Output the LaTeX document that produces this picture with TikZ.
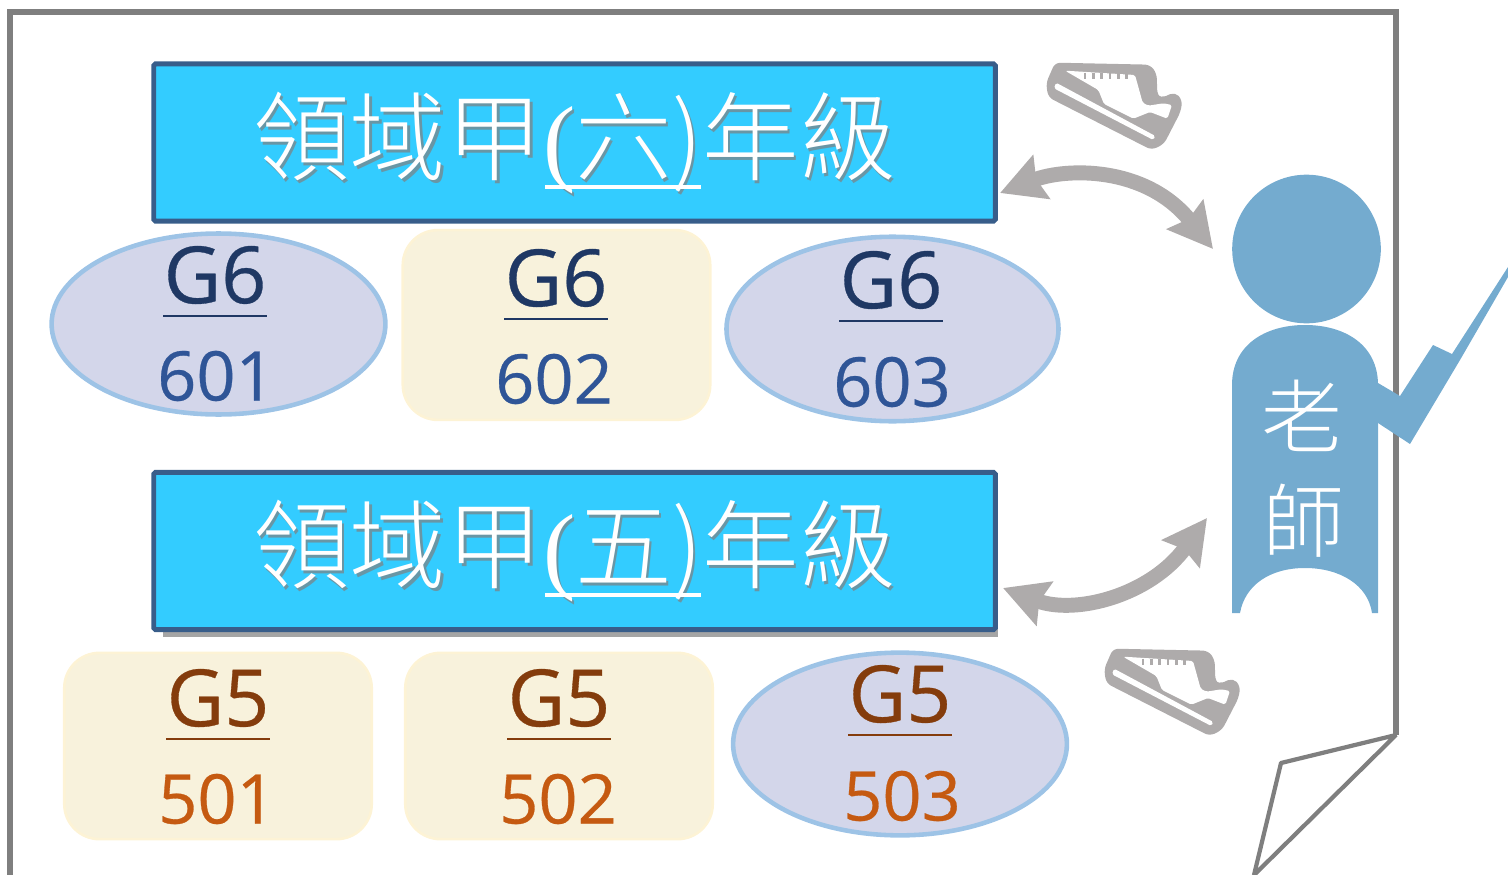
\documentclass[tikz,border=0pt]{standalone}
\usepackage{fontspec}
\usepackage{tikz}
\usetikzlibrary{arrows.meta,shapes.geometric}
\setmainfont{Liberation Serif}
\setsansfont[FakeBold=0.4]{Open Sans}
\newfontfamily\cjk{Noto Sans CJK TC Light}
\definecolor{framegray}{HTML}{7F7F7F}
\definecolor{bannerblue}{HTML}{33CCFF}
\definecolor{bannerline}{HTML}{385D8A}
\definecolor{ovalfill}{HTML}{D3D6EA}
\definecolor{ovalline}{HTML}{9DC3E6}
\definecolor{cardfill}{HTML}{F8F2DC}
\definecolor{cardline}{HTML}{FDF3D5}
\definecolor{arrowgray}{HTML}{AEABAB}
\definecolor{teacherblue}{HTML}{74ABCF}
\definecolor{sixdark}{HTML}{1F3864}
\definecolor{sixroom}{HTML}{2F5597}
\definecolor{fivedark}{HTML}{843C0C}
\definecolor{fiveroom}{HTML}{C55A11}
\tikzset{
    frameline/.style={draw=framegray, line width=3pt},
    foldline/.style={draw=framegray, line width=2.4pt, line join=bevel},
    banner/.style={rectangle, draw=bannerline, fill=bannerblue, line width=2.8pt, rounded corners=1pt, minimum width=479pt, minimum height=89.5pt},
    bannertext/.style={text=white, font=\fontsize{55pt}{55pt}\selectfont, inner sep=0pt},
    classoval/.style={ellipse, draw=ovalline, fill=ovalfill, line width=2.6pt, inner sep=0pt},
    classcard/.style={rectangle, draw=cardline, fill=cardfill, line width=1.5pt, rounded corners=20pt, inner sep=0pt},
    gradetext/.style={font=\sffamily\fontsize{45pt}{45pt}\selectfont, inner sep=0pt},
    roomtext/.style={font=\sffamily\fontsize{39pt}{39pt}\selectfont, inner sep=0pt},
    teachertext/.style={text=white, font=\cjk\fontsize{46pt}{46pt}\selectfont, inner sep=0pt},
    swapline/.style={draw=arrowgray, line width=8.5pt, {Stealth[length=25pt,width=26pt,inset=3pt]}-{Stealth[length=25pt,width=26pt,inset=3pt]}},
    shoe/.pic={
        \begin{scope}[scale=1/3]
            \fill[arrowgray, rounded corners=3pt] (138,130) -- (165,68) -- (450,74) -- (470,100) -- (472,165) -- (482,175) -- (525,156) -- (547,180) -- (542,215) -- (492,312) -- (455,330) -- (145,172) -- cycle;
            \fill[white, rounded corners=1pt] (195,92) -- (405,105) -- (428,188) -- (445,197) -- (490,190) -- (516,195) -- (502,236) -- (450,216) -- (400,236) -- (312,192) -- (295,150) -- cycle;
            \fill[white, rounded corners=1pt] (168,128) -- (466,288) -- (460,300) -- (162,145) -- cycle;
            \foreach \x in {255,280,305,330,355,380}
            \draw[arrowgray, line width=1.5pt] (\x,98) -- (\x,116);
        \end{scope}
    }
}
\newcommand{\gradename}[1]{{\cjk 領域甲}(#1){\cjk 年級}}

\begin{document}
\begin{tikzpicture}[x=0.02cm, y=-0.02cm]
    \useasboundingbox (0,0) rectangle (1508,875);

    % draw page with folded corner
    \draw[frameline] (10,875) -- (10,12) -- (1396,12) -- (1396,735);
    \draw[foldline] (1396,735) -- (1281,763) -- (1254,875) -- cycle;

    % draw grade banners
    \fill[framegray!70] (163,480) rectangle (998,637);
    \node[banner] (sixbanner) at (574.5,142.5) {};
    \node[banner] (fivebanner) at (574.5,551) {};

    \foreach \name/\y/\num in {six/143/六,five/551/五}
    {
        \node[bannertext, text=black!50, opacity=.7] (\name shadow) at (577,\y+3) {\gradename{\cjk\num}};
        \node[bannertext] (\name title) at (574.5,\y) {\gradename{\cjk\num}};
        \draw[white, line width=1.8pt] (545,\y+44) -- (701,\y+44);
    }

    % draw classes
    \node[classoval, minimum width=190pt, minimum height=103pt] (class601) at (218.5,324) {};
    \node[classcard, minimum width=175pt, minimum height=108pt] (class602) at (556.5,325) {};
    \node[classoval, minimum width=189pt, minimum height=105pt] (class603) at (892.5,329) {};
    \node[classcard, minimum width=175pt, minimum height=106pt] (class501) at (218,746) {};
    \node[classcard, minimum width=175pt, minimum height=106pt] (class502) at (559,746) {};
    \node[classoval, minimum width=190pt, minimum height=104pt] (class503) at (900,744) {};

    % draw class labels
    \foreach \room/\gname/\gx/\gy/\rx/\ry/\dark/\light in {
        601/G6/215/275/216/376/sixdark/sixroom,
        602/G6/556/278/554/379/sixdark/sixroom,
        603/G6/891/280/892/382/sixdark/sixroom,
        501/G5/218/698/217/799/fivedark/fiveroom,
        502/G5/559/698/558/799/fivedark/fiveroom,
        503/G5/900/694/902/796/fivedark/fiveroom}
    {
        \node[gradetext, text=\dark] (grade\room) at (\gx,\gy) {\gname};
        \node[roomtext, text=\light] (room\room) at (\rx,\ry) {\room};
        \draw[\dark, line width=1.3pt] (\gx-52,\gy+41) -- (\gx+52,\gy+41);
    }

    % draw teacher
    \node[circle, fill=teacherblue, minimum size=84.6pt, inner sep=0pt] (teacherhead) at (1306.5,249) {};
    \fill[teacherblue] (1378,383) -- (1400,396) -- (1433,345) -- (1452,354) -- (1508,267) -- (1508,277) -- (1460,360) -- (1410,444) -- (1378,423) -- cycle;
    \fill[teacherblue] (1232,613) -- (1232,385) .. controls (1232,345) and (1265,325) .. (1305,325) .. controls (1345,325) and (1378,345) .. (1378,385) -- (1378,613) -- (1372,613) .. controls (1368,585) and (1340,568) .. (1305,568) .. controls (1270,568) and (1245,585) .. (1240,613) -- cycle;
    \node[teachertext] (teacherold) at (1302,416) {老};
    \node[teachertext] (teacherart) at (1304,521) {師};

    % draw arrows
    \coordinate (sixtip) at (1000,193);
    \coordinate (teachersix) at (1213,249);
    \coordinate (fivetip) at (1003,588);
    \coordinate (teacherfive) at (1207,518);
    \draw[swapline] (sixtip) .. controls (1065,168) and (1145,165) .. (teachersix);
    \draw[swapline] (fivetip) .. controls (1075,615) and (1150,596) .. (teacherfive);

    % draw shoes
    \pic at (1000,40) {shoe};
    \pic at (1058,626) {shoe};
\end{tikzpicture}
\end{document}
